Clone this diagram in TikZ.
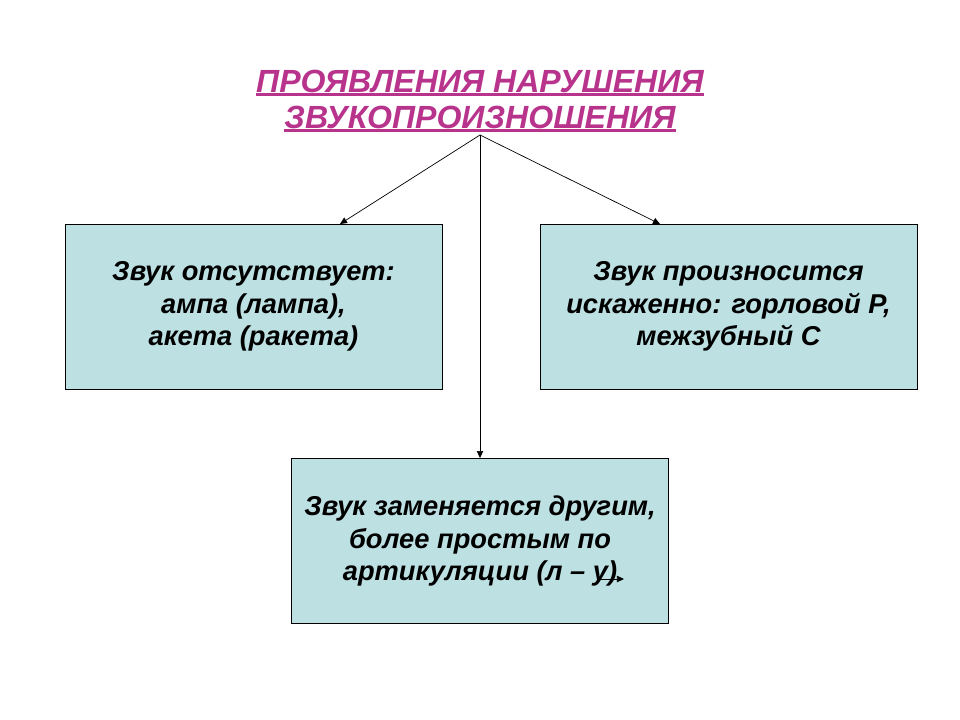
\documentclass[tikz,border=0pt]{standalone}
\usepackage{fontspec}
\setmainfont{Liberation Sans}
\usetikzlibrary{arrows.meta}
\definecolor{boxfill}{RGB}{189,224,227}
\definecolor{titlepink}{RGB}{184,52,140}
\newcommand{\titleline}[1]{\setbox0\hbox{#1}\rlap{\rule[-2.8pt]{\wd0}{1.9pt}}\box0}
\begin{document}
\begin{tikzpicture}[x=0.025cm,y=-0.025cm,
    titlenode/.style={text=titlepink,align=center,inner sep=0pt,
      font=\fontsize{22.8}{25.6}\selectfont\bfseries\itshape},
    boxnode/.style={draw=black,fill=boxfill,line width=0.6pt,align=center,
      minimum width=9.425cm,minimum height=4.125cm,inner sep=0pt,
      font=\fontsize{19.4}{23}\selectfont\bfseries\itshape},
    link/.style={line width=0.5pt,-{Triangle[length=5pt,width=4.5pt]}}]
  \useasboundingbox (0,0) rectangle (960,720);

  % title
  \node[titlenode] (title) at (480,101)
    {\titleline{ПРОЯВЛЕНИЯ НАРУШЕНИЯ}\\\titleline{ЗВУКОПРОИЗНОШЕНИЯ}};
  \coordinate (apex) at (480,135);

  % boxes
  \node[boxnode] (lbox) at (253.5,306.5)
    {Звук отсутствует:\\ампа (лампа),\\акета (ракета)};
  \node[boxnode] (rbox) at (728.5,306.5)
    {Звук произносится~\\искаженно: горловой Р,\\межзубный С};
  \node[boxnode] (bbox) at (480,541)
    {Звук заменяется другим,\\более простым по\\артикуляции (л – у)};

  % arrow ends
  \coordinate (lend) at (340,224);
  \coordinate (rend) at (660,224);
  \coordinate (ytail) at (600,579);
  \coordinate (yhead) at (624,579);

  \draw[link] (apex) -- (lend);
  \draw[link] (apex) -- (rend);
  \draw[link] (apex) -- (bbox.north);
  \draw[link] (ytail) -- (yhead);
\end{tikzpicture}
\end{document}
